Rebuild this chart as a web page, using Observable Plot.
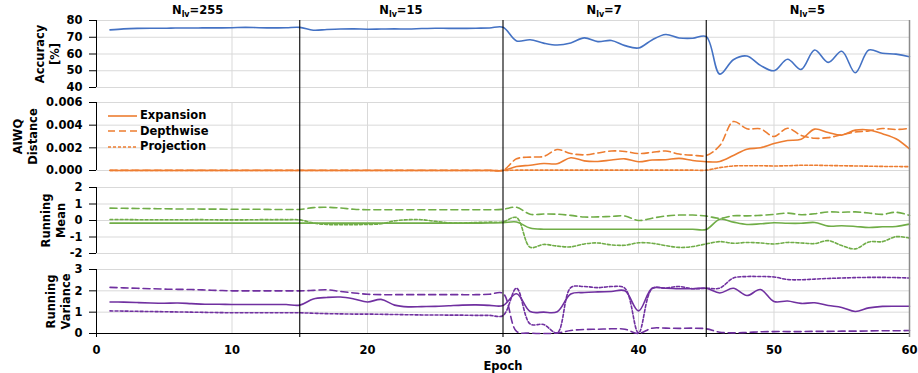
<!DOCTYPE html>
<html><head><meta charset="utf-8">
<script src="https://cdn.jsdelivr.net/npm/d3@7"></script>
<script src="https://cdn.jsdelivr.net/npm/@observablehq/plot@0.6"></script>
<style>
body{margin:0;background:#fff;}
#chart{position:relative;width:918px;height:373px;font-family:"DejaVu Sans",Verdana,sans-serif;font-weight:bold;font-size:11.5px;color:#000;overflow:hidden;}
#chart svg{position:absolute;left:0;}
.top{position:absolute;top:5px;line-height:1;transform:translateX(-50%);white-space:nowrap;}
.top sub{font-size:8px;vertical-align:-3px;line-height:1;}
.leg{position:absolute;left:108px;line-height:1;white-space:nowrap;display:flex;align-items:center;}
.leg svg{position:static !important;margin-right:3px;}
</style></head><body><div id="chart"></div><script>
const epochs = d3.range(1, 61);
const phaseLabels = ["255", "15", "7", "5"];
const phaseCenters = [7.5, 22.5, 37.5, 52.5];
const phaseBounds = [15, 30, 45];
const seriesNames = ["Expansion", "Depthwise", "Projection"];

const accuracy = [74.4,75.0,75.3,75.4,75.4,75.5,75.5,75.6,75.6,75.7,75.9,75.7,75.6,75.7,75.9,
  74.2,74.6,74.9,75.0,74.8,74.9,75.0,74.9,75.2,75.4,75.3,75.3,75.4,75.5,76.0,
  67.8,68.5,66.5,65.4,66.6,69.6,67.4,68.1,65.0,63.6,68.4,71.6,69.6,69.4,70.4,
  48.0,56.6,58.8,53.2,50.0,56.9,50.8,62.4,55.0,61.6,48.8,62.4,60.4,59.9,58.4];

const aiwqExp = [0,0,0,0,0,0,0,0,0,0,0,0,0,0,0,0,0,0,0,0,0,0,0,0,0,0,0,0,0,0,
  0.00035,0.00047,0.00062,0.00060,0.00112,0.00085,0.00080,0.00093,0.00103,0.00077,0.00092,0.00095,0.00107,0.00088,0.00077,
  0.00080,0.00132,0.00188,0.00200,0.00238,0.00265,0.00276,0.00365,0.00335,0.00312,0.00356,0.00358,0.00324,0.00280,0.00190];
const aiwqDep = [0.00002,0.00002,0.00002,0.00002,0.00002,0.00002,0.00002,0.00002,0.00002,0.00002,0.00002,0.00002,0.00002,0.00002,0.00002,
  0.00002,0.00002,0.00002,0.00002,0.00002,0.00002,0.00002,0.00002,0.00002,0.00002,0.00002,0.00002,0.00002,0.00002,0.00002,
  0.00103,0.00118,0.00124,0.00185,0.00150,0.00138,0.00155,0.00172,0.00168,0.00150,0.00160,0.00172,0.00145,0.00135,0.00132,
  0.00220,0.00432,0.00368,0.00368,0.00300,0.00373,0.00310,0.00285,0.00290,0.00315,0.00340,0.00350,0.00370,0.00362,0.00372];
const aiwqProj = [0,0,0,0,0,0,0,0,0,0,0,0,0,0,0,0,0,0,0,0,0,0,0,0,0,0,0,0,0,0,
  0.00003,0.00003,0.00003,0.00003,0.00003,0.00003,0.00003,0.00003,0.00003,0.00003,0.00003,0.00003,0.00003,0.00003,0.00003,
  0.00025,0.00040,0.00042,0.00042,0.00040,0.00042,0.00046,0.00046,0.00044,0.00042,0.00040,0.00038,0.00036,0.00035,0.00034];

const meanExp = [-0.16,-0.16,-0.16,-0.16,-0.16,-0.16,-0.16,-0.16,-0.16,-0.16,-0.16,-0.16,-0.16,-0.16,-0.16,
  -0.16,-0.16,-0.16,-0.16,-0.16,-0.16,-0.16,-0.16,-0.16,-0.16,-0.16,-0.16,-0.16,-0.15,-0.14,
  -0.09,-0.46,-0.53,-0.53,-0.53,-0.53,-0.53,-0.53,-0.53,-0.53,-0.53,-0.53,-0.53,-0.53,-0.54,
  0.08,-0.10,-0.24,-0.20,-0.14,-0.17,-0.17,-0.12,-0.34,-0.32,-0.36,-0.42,-0.38,-0.36,-0.22];
const meanDep = [0.75,0.74,0.73,0.72,0.71,0.70,0.70,0.69,0.69,0.68,0.68,0.68,0.67,0.67,0.67,
  0.78,0.80,0.76,0.68,0.65,0.65,0.65,0.65,0.65,0.65,0.65,0.65,0.65,0.65,0.68,
  0.80,0.38,0.39,0.38,0.31,0.21,0.22,0.25,0.27,0.00,0.14,0.27,0.33,0.33,0.27,
  0.13,0.29,0.28,0.31,0.37,0.45,0.35,0.41,0.52,0.50,0.52,0.45,0.37,0.50,0.31];
const meanProj = [0.06,0.06,0.05,0.05,0.05,0.05,0.05,0.05,0.04,0.04,0.04,0.05,0.05,0.05,0.04,
  -0.15,-0.24,-0.25,-0.25,-0.24,-0.20,-0.02,0.05,0.05,-0.05,-0.14,-0.15,-0.12,-0.10,-0.08,
  0.18,-1.62,-1.45,-1.55,-1.60,-1.42,-1.36,-1.48,-1.50,-1.35,-1.38,-1.52,-1.63,-1.58,-1.42,
  -1.28,-1.38,-1.33,-1.36,-1.42,-1.33,-1.36,-1.40,-1.22,-1.52,-1.72,-1.30,-1.28,-0.98,-1.07];

const varExp = [1.48,1.47,1.45,1.43,1.42,1.43,1.40,1.37,1.37,1.36,1.36,1.36,1.36,1.36,1.33,
  1.62,1.69,1.71,1.62,1.48,1.60,1.33,1.25,1.26,1.27,1.30,1.33,1.34,1.32,1.31,
  1.86,1.03,1.00,1.02,1.85,1.92,1.95,1.97,2.00,1.06,2.12,2.12,2.10,2.10,2.12,
  1.90,2.12,1.78,2.06,1.50,1.52,1.41,1.44,1.31,1.22,1.03,1.20,1.27,1.28,1.28];
const varDep = [2.16,2.14,2.12,2.10,2.08,2.07,2.06,2.04,2.02,2.00,2.00,2.00,2.00,2.00,2.00,
  2.02,2.05,1.97,1.90,1.84,1.82,1.82,1.82,1.82,1.82,1.82,1.82,1.82,1.84,1.88,
  0.10,0.02,0.00,0.02,0.14,0.19,0.20,0.22,0.20,0.00,0.25,0.25,0.24,0.25,0.22,
  0.06,0.03,0.05,0.08,0.09,0.09,0.09,0.10,0.10,0.11,0.11,0.12,0.13,0.13,0.14];
const varProj = [1.06,1.05,1.04,1.03,1.02,1.01,1.00,0.99,0.98,0.97,0.97,0.97,0.97,0.97,0.97,
  0.95,0.93,0.92,0.91,0.91,0.90,0.89,0.88,0.87,0.87,0.86,0.86,0.85,0.85,0.84,
  2.12,0.45,0.42,0.03,2.15,2.20,2.15,2.20,2.12,0.03,2.10,2.13,2.20,2.10,2.12,
  2.13,2.60,2.67,2.67,2.65,2.53,2.52,2.55,2.58,2.60,2.62,2.63,2.63,2.62,2.60];

const FONT = "DejaVu Sans, Verdana, sans-serif";
const dashes = [null, "7,4", "3,2"];
const root = document.getElementById("chart");
const xGrid = [10, 20, 40, 50];

function panel({frameTop, frameBottom, domain, ticks, fmt, title, titleDx, color, series, last}) {
  const mt = 10, mb = last ? 40 : 10;
  const height = frameBottom - frameTop + mt + mb;
  const marks = [
    Plot.ruleY(ticks, {stroke: "#d9d9d9", strokeWidth: 1}),
    Plot.ruleX(xGrid, {stroke: "#d9d9d9", strokeWidth: 1}),
    Plot.ruleX([0], {stroke: "#000", strokeWidth: 1, insetBottom: last ? -4 : 0})
  ];
  if (last) marks.push(Plot.ruleY([domain[0]], {stroke: "#000", strokeWidth: 1}));
  series.forEach((s, i) => marks.push(Plot.lineY(s, {x: epochs, stroke: color, strokeWidth: 1.6,
    strokeDasharray: dashes[i], curve: "catmull-rom"})));
  marks.push(Plot.text([title], {text: d => d, frameAnchor: "left", textAnchor: "middle", lineAnchor: "middle",
    dx: titleDx, rotate: -90, lineHeight: 1.35, fontWeight: "bold", fontSize: 11.5}));
  if (last) marks.push(Plot.text(["Epoch"], {text: d => d, frameAnchor: "bottom", dy: 36, fontWeight: "bold", fontSize: 11.5}));
  const svg = Plot.plot({
    width: 918, height, marginLeft: 96, marginRight: 9, marginTop: mt, marginBottom: mb,
    style: {background: "transparent", overflow: "visible", fontFamily: FONT, fontSize: "11.5px", fontWeight: "bold", color: "#000"},
    x: {domain: [0, 60], axis: last ? "bottom" : null, ticks: [0,10,20,30,40,50,60], tickSize: 0, tickPadding: 12, label: null},
    y: {domain, ticks, tickFormat: fmt, tickSize: 7, tickPadding: 7, label: null},
    marks
  });
  svg.style.top = (frameTop - mt) + "px";
  root.appendChild(svg);
}

panel({frameTop: 20, frameBottom: 87, domain: [40, 80], ticks: [40,50,60,70,80], fmt: d => String(d),
  title: "Accuracy\n[%]", titleDx: -50, color: "#4472C4", series: [accuracy]});
panel({frameTop: 102, frameBottom: 170, domain: [0, 0.006], ticks: [0,0.002,0.004,0.006], fmt: d3.format(".3f"),
  title: "AIWQ\nDistance", titleDx: -72, color: "#ED7D31", series: [aiwqExp, aiwqDep, aiwqProj]});
panel({frameTop: 187, frameBottom: 253, domain: [-2, 2], ticks: [-2,-1,0,1,2], fmt: d => String(d),
  title: "Running\nMean", titleDx: -44, color: "#70AD47", series: [meanExp, meanDep, meanProj]});
panel({frameTop: 269, frameBottom: 333, domain: [0, 3], ticks: [0,1,2,3], fmt: d => String(d),
  title: "Running\nVariance", titleDx: -39, color: "#7030A0", series: [varExp, varDep, varProj], last: true});

const overlay = Plot.plot({
  width: 918, height: 373, marginLeft: 96, marginRight: 9, marginTop: 20, marginBottom: 36,
  style: {background: "transparent", overflow: "visible"},
  x: {domain: [0, 60], axis: null},
  marks: [
    Plot.ruleX([60], {stroke: "#8c8c8c", strokeWidth: 1.5}),
    Plot.ruleX(phaseBounds, {stroke: "#000", strokeWidth: 1.1})
  ]
});
overlay.style.top = "0px";
root.appendChild(overlay);
const xs = overlay.scale("x");

phaseLabels.forEach((lab, i) => {
  const d = document.createElement("div");
  d.className = "top";
  d.style.left = xs.apply(phaseCenters[i]) + "px";
  d.innerHTML = "N<sub>lv</sub>=" + lab;
  root.appendChild(d);
});

seriesNames.forEach((name, i) => {
  const d = document.createElement("div");
  d.className = "leg";
  d.style.top = (110 + i * 15.3) + "px";
  d.innerHTML = `<svg width="29" height="12"><line x1="0" x2="29" y1="6" y2="6" stroke="#ED7D31" stroke-width="1.6" ${dashes[i] ? `stroke-dasharray="${dashes[i]}"` : ""}/></svg><span>${name}</span>`;
  root.appendChild(d);
});
</script></body></html>
